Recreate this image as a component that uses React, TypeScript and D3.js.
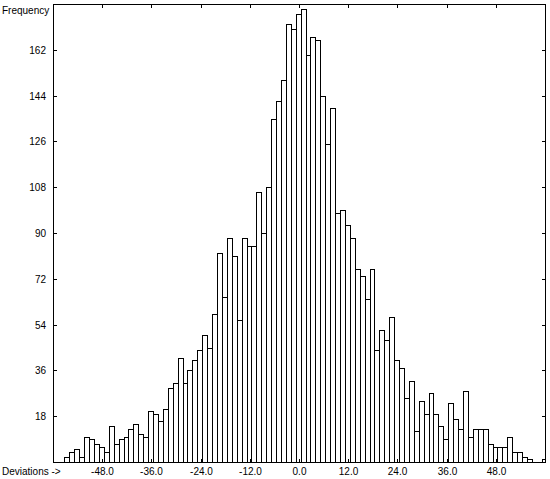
import React from "react";
import * as d3 from "d3";

// Histogram counts, one per bin (bin width 1.2, first bin starting at -57.2)
const binStart = -57.2;
const binWidth = 1.2;
const counts = [
  2, 4, 5, 2, 10, 9, 7, 6, 4, 14,
  7, 9, 10, 13, 15, 11, 10, 20, 19, 16,
  21, 29, 31, 41, 31, 36, 40, 44, 50, 45,
  58, 82, 65, 88, 81, 56, 88, 85, 85, 106,
  90, 108, 135, 142, 150, 172, 170, 176, 178, 160,
  167, 166, 144, 125, 139, 98, 99, 93, 88, 76,
  73, 64, 76, 44, 52, 48, 57, 40, 37, 25,
  32, 12, 24, 19, 27, 19, 14, 9, 23, 17,
  13, 28, 10, 13, 13, 13, 7, 6, 6, 6,
  10, 4, 4, 2, 1, 0, 0, 1,
];
const xTicks = [-48, -36, -24, -12, 0, 12, 24, 36, 48];
const yTicks = [18, 36, 54, 72, 90, 108, 126, 144, 162];
const xDomain = [-60, 60];
const yDomain = [0, 180];
const xAxisTitle = "Deviations ->";
const yAxisTitle = "Frequency";

const W = 550;
const H = 479;
const L = 53;
const R = 545;
const T = 4;
const B = 462;

export default function App() {
  const x = d3.scaleLinear().domain(xDomain).range([L, R]);
  const y = d3.scaleLinear().domain(yDomain).range([B, T]);
  const font = "'Liberation Sans', Arial, sans-serif";

  const bars = counts
    .map((c, i) => {
      const x0 = binStart + i * binWidth;
      const x1 = Math.min(x0 + binWidth, xDomain[1]);
      return { c, x0, x1, i };
    })
    .filter((b) => b.c > 0);

  const fmt = (v: number) => (Math.abs(v) < 1e-9 ? "0.0" : v.toFixed(1));

  return (
    <svg
      width={W}
      height={H}
      style={{ position: "absolute", left: 0, top: 0, background: "#fff" }}
      shapeRendering="crispEdges"
    >
      <rect x={0} y={0} width={W} height={H} fill="#fff" />
      {bars.map((b) => (
        <rect
          key={b.i}
          x={Math.round(x(b.x0)) + 0.5}
          y={Math.round(y(b.c)) + 0.5}
          width={Math.round(x(b.x1)) - Math.round(x(b.x0))}
          height={Math.round(y(0)) - Math.round(y(b.c))}
          fill="#fff"
          stroke="#000"
          strokeWidth={1}
        />
      ))}
      {/* frame */}
      <rect
        x={L + 0.5}
        y={T + 0.5}
        width={R - L}
        height={B - T}
        fill="none"
        stroke="#000"
        strokeWidth={1}
      />
      {/* y ticks left and right */}
      {yTicks.map((t) => {
        const yy = Math.round(y(t)) + 0.5;
        return (
          <g key={"y" + t}>
            <line x1={L} x2={L + 4} y1={yy} y2={yy} stroke="#000" />
            <line x1={R - 3} x2={R + 1} y1={yy} y2={yy} stroke="#000" />
            <text
              x={46}
              y={yy}
              dy="0.35em"
              textAnchor="end"
              fontFamily={font}
              fontSize={10}
              fill="#000"
            >
              {t}
            </text>
          </g>
        );
      })}
      {/* x ticks top and bottom */}
      {xTicks.map((t) => {
        const xx = Math.round(x(t)) + 0.5;
        return (
          <g key={"x" + t}>
            <line x1={xx} x2={xx} y1={T} y2={T + 4} stroke="#000" />
            <line x1={xx} x2={xx} y1={B - 3} y2={B + 1} stroke="#000" />
            <text
              x={xx}
              y={475}
              textAnchor="middle"
              fontFamily={font}
              fontSize={10}
              fill="#000"
            >
              {fmt(t)}
            </text>
          </g>
        );
      })}
      <text x={2} y={14} fontFamily={font} fontSize={10} fill="#000">
        {yAxisTitle}
      </text>
      <text x={2} y={475} fontFamily={font} fontSize={10} fill="#000">
        {xAxisTitle}
      </text>
    </svg>
  );
}
